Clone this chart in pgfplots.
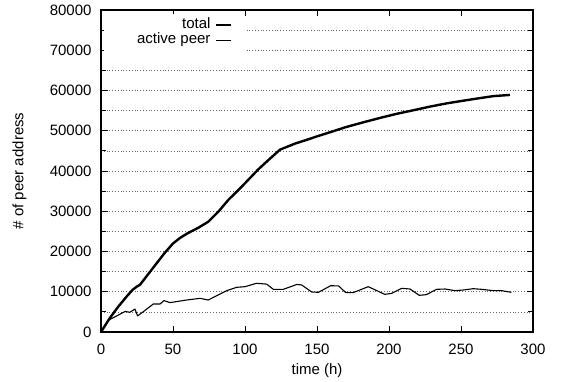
\documentclass[border=0pt]{standalone}
\usepackage{fontspec}
\setmainfont{Liberation Sans}
\usepackage{pgfplots}
\pgfplotsset{compat=1.18}
\begin{document}
\begin{tikzpicture}[font=\fontsize{15}{18}\selectfont]
\begin{axis}[
  name=ax,
  width=432pt, height=322pt, scale only axis,
  xmin=0, xmax=300, ymin=0, ymax=80000,
  xtick distance=50, ytick distance=10000,
  minor y tick num=1,
  scaled ticks=false,
  /pgf/number format/assume math mode=true,
  /pgf/number format/1000 sep={},
  tick align=inside,
  major tick length=6.5pt, minor tick length=5pt,
  every tick/.style={black, line width=0.9pt},
  axis line style={line width=1.3pt},
  ymajorgrids, yminorgrids,
  grid style={black!60, dash pattern=on 0.8pt off 2pt, line width=0.7pt},
  major grid style={black!60, dash pattern=on 0.8pt off 2pt, line width=0.7pt},
  minor grid style={black!60, dash pattern=on 0.8pt off 2pt, line width=0.7pt},
  yticklabel style={xshift=-6pt},
  xticklabel style={yshift=-8pt},
  xlabel={time (h)},
  ylabel={\# of peer address},
  xlabel style={at={(axis description cs:0.5,-0.1335)}, anchor=base},
  ylabel style={at={(axis description cs:-0.1644,0.5)}, anchor=south, rotate=0},
  legend plot pos=right,
  legend cell align=right,
  legend style={at={(axis description cs:0.333,0.989)}, anchor=north east,
    draw=none, fill=white, inner xsep=12pt, inner ysep=4pt,
    nodes={inner sep=0.75pt, text height=10.5pt, text depth=3pt},
    column sep=4pt},
  legend image code/.code={\draw[#1] (0pt,0pt) -- (15pt,0pt);},
]
\addplot[black, line width=2.4pt, line join=round] coordinates {
(0,0) (6,3400) (12,6300) (18,8900) (22,10500) (25,11300) (27,11700)
(35,15400) (44,19550) (50,22000) (55,23400) (60,24500) (67.6,25900)
(74.5,27400) (81.5,29900) (88.4,32800) (97.7,36100) (109.2,40400)
(116.2,42700) (124.3,45300) (134.7,46800) (141.7,47600) (150,48600)
(161.4,49900) (170,50900) (182.2,52100) (195,53300) (205.3,54200)
(217,55100) (228.5,56000) (240,56800) (253.9,57600) (263,58100)
(272.4,58600) (284,58900)
};
\addlegendentry{total}
\addplot[black, line width=1.1pt, line join=round] coordinates {
(0,0) (5,2900) (12,4200) (16.7,5100) (20,4900) (23.6,5700) (25.4,4000)
(29.4,5050) (36.3,6950) (41,6950) (43.7,7800) (47.9,7300) (59.5,7950)
(68.8,8360) (74.5,7950) (87.3,10270) (94.2,11100) (100,11260) (108,12100)
(115,11900) (119.7,10600) (126.6,10600) (135.9,11800) (139.3,11700)
(146.3,9940) (151,9860) (159.5,11500) (165,11450) (170,9770) (175,9770)
(185.6,11260) (197,9360) (201.9,9600) (208.8,10850) (214.6,10680)
(221,9110) (226,9280) (233,10600) (238.9,10680) (245.8,10270)
(251.6,10430) (258.5,10760) (264.4,10600) (272.4,10270) (278.2,10270)
(285,9860)
};
\addlegendentry{\hspace*{20pt}active peer}
\end{axis}
\pgfresetboundingbox
\path (ax.south west) ++(-101pt,-50pt) coordinate (bbA);
\path (ax.north east) ++(28pt,10pt) coordinate (bbB);
\path (bbA) rectangle (bbB);
\end{tikzpicture}
\end{document}
